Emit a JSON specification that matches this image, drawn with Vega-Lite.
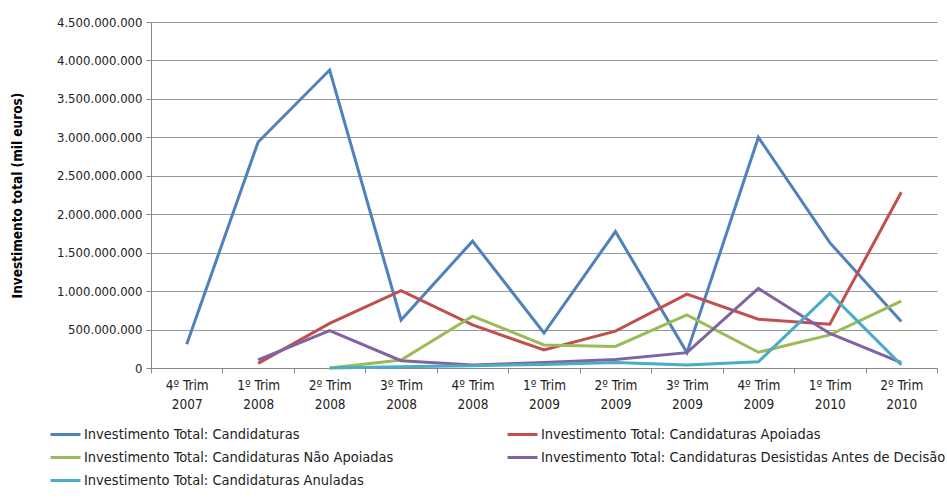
{
  "$schema": "https://vega.github.io/schema/vega-lite/v6.json",
  "width": 786,
  "height": 346,
  "autosize": {"type": "none"},
  "padding": {"left": 151, "top": 22, "right": 10, "bottom": 131},
  "config": {
    "font": "Liberation Sans Narrow, DejaVu Sans Condensed, sans-serif",
    "view": {"stroke": null},
    "locale": {"number": {"decimal": ",", "thousands": ".", "grouping": [3], "currency": ["", " €"]}}
  },
  "data": {
    "values": [
      {"q": "4º Trim 2007", "s": "Investimento Total: Candidaturas", "v": 310000000},
      {"q": "1º Trim 2008", "s": "Investimento Total: Candidaturas", "v": 2940000000},
      {"q": "2º Trim 2008", "s": "Investimento Total: Candidaturas", "v": 3875000000},
      {"q": "3º Trim 2008", "s": "Investimento Total: Candidaturas", "v": 625000000},
      {"q": "4º Trim 2008", "s": "Investimento Total: Candidaturas", "v": 1650000000},
      {"q": "1º Trim 2009", "s": "Investimento Total: Candidaturas", "v": 455000000},
      {"q": "2º Trim 2009", "s": "Investimento Total: Candidaturas", "v": 1775000000},
      {"q": "3º Trim 2009", "s": "Investimento Total: Candidaturas", "v": 200000000},
      {"q": "4º Trim 2009", "s": "Investimento Total: Candidaturas", "v": 3000000000},
      {"q": "1º Trim 2010", "s": "Investimento Total: Candidaturas", "v": 1630000000},
      {"q": "2º Trim 2010", "s": "Investimento Total: Candidaturas", "v": 605000000},

      {"q": "1º Trim 2008", "s": "Investimento Total: Candidaturas Apoiadas", "v": 60000000},
      {"q": "2º Trim 2008", "s": "Investimento Total: Candidaturas Apoiadas", "v": 580000000},
      {"q": "3º Trim 2008", "s": "Investimento Total: Candidaturas Apoiadas", "v": 1005000000},
      {"q": "4º Trim 2008", "s": "Investimento Total: Candidaturas Apoiadas", "v": 560000000},
      {"q": "1º Trim 2009", "s": "Investimento Total: Candidaturas Apoiadas", "v": 235000000},
      {"q": "2º Trim 2009", "s": "Investimento Total: Candidaturas Apoiadas", "v": 480000000},
      {"q": "3º Trim 2009", "s": "Investimento Total: Candidaturas Apoiadas", "v": 960000000},
      {"q": "4º Trim 2009", "s": "Investimento Total: Candidaturas Apoiadas", "v": 635000000},
      {"q": "1º Trim 2010", "s": "Investimento Total: Candidaturas Apoiadas", "v": 570000000},
      {"q": "2º Trim 2010", "s": "Investimento Total: Candidaturas Apoiadas", "v": 2285000000},

      {"q": "2º Trim 2008", "s": "Investimento Total: Candidaturas Não Apoiadas", "v": 0},
      {"q": "3º Trim 2008", "s": "Investimento Total: Candidaturas Não Apoiadas", "v": 105000000},
      {"q": "4º Trim 2008", "s": "Investimento Total: Candidaturas Não Apoiadas", "v": 675000000},
      {"q": "1º Trim 2009", "s": "Investimento Total: Candidaturas Não Apoiadas", "v": 300000000},
      {"q": "2º Trim 2009", "s": "Investimento Total: Candidaturas Não Apoiadas", "v": 280000000},
      {"q": "3º Trim 2009", "s": "Investimento Total: Candidaturas Não Apoiadas", "v": 690000000},
      {"q": "4º Trim 2009", "s": "Investimento Total: Candidaturas Não Apoiadas", "v": 205000000},
      {"q": "1º Trim 2010", "s": "Investimento Total: Candidaturas Não Apoiadas", "v": 430000000},
      {"q": "2º Trim 2010", "s": "Investimento Total: Candidaturas Não Apoiadas", "v": 870000000},

      {"q": "1º Trim 2008", "s": "Investimento Total: Candidaturas Desistidas Antes de Decisão", "v": 105000000},
      {"q": "2º Trim 2008", "s": "Investimento Total: Candidaturas Desistidas Antes de Decisão", "v": 485000000},
      {"q": "3º Trim 2008", "s": "Investimento Total: Candidaturas Desistidas Antes de Decisão", "v": 95000000},
      {"q": "4º Trim 2008", "s": "Investimento Total: Candidaturas Desistidas Antes de Decisão", "v": 40000000},
      {"q": "1º Trim 2009", "s": "Investimento Total: Candidaturas Desistidas Antes de Decisão", "v": 70000000},
      {"q": "2º Trim 2009", "s": "Investimento Total: Candidaturas Desistidas Antes de Decisão", "v": 110000000},
      {"q": "3º Trim 2009", "s": "Investimento Total: Candidaturas Desistidas Antes de Decisão", "v": 200000000},
      {"q": "4º Trim 2009", "s": "Investimento Total: Candidaturas Desistidas Antes de Decisão", "v": 1035000000},
      {"q": "1º Trim 2010", "s": "Investimento Total: Candidaturas Desistidas Antes de Decisão", "v": 450000000},
      {"q": "2º Trim 2010", "s": "Investimento Total: Candidaturas Desistidas Antes de Decisão", "v": 70000000},

      {"q": "2º Trim 2008", "s": "Investimento Total: Candidaturas Anuladas", "v": 0},
      {"q": "3º Trim 2008", "s": "Investimento Total: Candidaturas Anuladas", "v": 15000000},
      {"q": "4º Trim 2008", "s": "Investimento Total: Candidaturas Anuladas", "v": 30000000},
      {"q": "1º Trim 2009", "s": "Investimento Total: Candidaturas Anuladas", "v": 45000000},
      {"q": "2º Trim 2009", "s": "Investimento Total: Candidaturas Anuladas", "v": 70000000},
      {"q": "3º Trim 2009", "s": "Investimento Total: Candidaturas Anuladas", "v": 40000000},
      {"q": "4º Trim 2009", "s": "Investimento Total: Candidaturas Anuladas", "v": 80000000},
      {"q": "1º Trim 2010", "s": "Investimento Total: Candidaturas Anuladas", "v": 970000000},
      {"q": "2º Trim 2010", "s": "Investimento Total: Candidaturas Anuladas", "v": 40000000}
    ]
  },
  "mark": {"type": "line", "strokeWidth": 3},
  "encoding": {
    "x": {
      "field": "q",
      "type": "ordinal",
      "sort": null,
      "scale": {"type": "band", "paddingInner": 0, "paddingOuter": 0},
      "axis": {
        "title": null,
        "labelAngle": 0,
        "labelExpr": "[slice(datum.label, 0, 7), slice(datum.label, 8)]",
        "labelFontSize": 13.5,
        "labelColor": "#222222",
        "labelPadding": 5,
        "labelLineHeight": 19,
        "tickBand": "extent",
        "tickSize": 5,
        "tickColor": "#888888",
        "domainColor": "#888888",
        "grid": false
      }
    },
    "y": {
      "field": "v",
      "type": "quantitative",
      "scale": {"domain": [0, 4500000000], "nice": false},
      "axis": {
        "title": "Investimento total (mil euros)",
        "titleFontSize": 13.5,
        "titleFontWeight": "bold",
        "titleColor": "#000000",
        "titlePadding": 32,
        "values": [0, 500000000, 1000000000, 1500000000, 2000000000, 2500000000, 3000000000, 3500000000, 4000000000, 4500000000],
        "format": ",d",
        "labelFontSize": 13,
        "labelColor": "#222222",
        "labelPadding": 4,
        "labelOverlap": false,
        "tickSize": 5,
        "tickColor": "#888888",
        "domainColor": "#888888",
        "gridColor": "#999999",
        "gridWidth": 1
      }
    },
    "color": {
      "field": "s",
      "type": "nominal",
      "scale": {
        "domain": [
          "Investimento Total: Candidaturas",
          "Investimento Total: Candidaturas Não Apoiadas",
          "Investimento Total: Candidaturas Anuladas",
          "Investimento Total: Candidaturas Apoiadas",
          "Investimento Total: Candidaturas Desistidas Antes de Decisão"
        ],
        "range": ["#4F81BD", "#9BBB59", "#4BACC6", "#C0504D", "#8064A2"]
      },
      "legend": {
        "title": null,
        "orient": "none",
        "legendX": -102,
        "legendY": 396,
        "columns": 2,
        "columnPadding": 107,
        "rowPadding": -5,
        "symbolType": "stroke",
        "symbolSize": 900,
        "symbolStrokeWidth": 3,
        "labelFontSize": 14.5,
        "labelColor": "#222222",
        "labelOffset": 2,
        "labelLimit": 500
      }
    }
  }
}
